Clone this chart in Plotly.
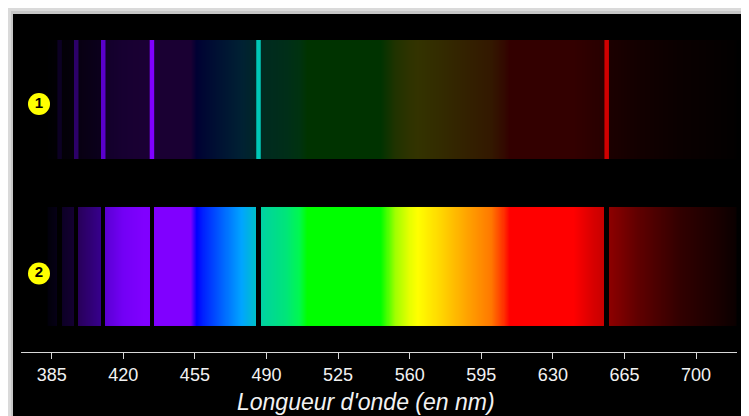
import numpy as np
import plotly.graph_objects as go

# ---- data ----
# colour stops of the continuous spectrum (wavelength in nm -> RGB)
stop_nm = [383, 387, 391, 396, 398, 409, 411, 420, 430, 453, 456, 460, 470, 478,
           485, 488, 500, 506, 510, 546, 553, 560, 564, 575, 589, 600, 606, 609,
           640, 650, 655, 658, 672, 692, 711, 720]
stop_r = [2, 5, 14, 20, 40, 55, 90, 115, 128, 128, 0, 0, 0, 0,
          0, 0, 0, 0, 0, 0, 160, 230, 255, 255, 255, 255, 255, 255,
          255, 215, 200, 140, 95, 50, 25, 10]
stop_g = [0, 0, 0, 0, 0, 0, 0, 0, 0, 0, 0, 40, 110, 165,
          190, 210, 230, 248, 255, 255, 255, 255, 255, 215, 160, 120, 50, 0,
          0, 0, 0, 0, 0, 0, 0, 0]
stop_b = [10, 20, 40, 50, 90, 140, 210, 245, 255, 255, 255, 255, 255, 255,
          200, 160, 120, 80, 0, 0, 0, 0, 0, 0, 0, 0, 0, 0,
          0, 0, 0, 0, 0, 0, 0, 0]
# hydrogen lines (nm) and their emission colours
lines_nm = [388.9, 397.0, 410.2, 434.0, 486.1, 656.3]
line_colors = ["#0c0024", "#2c0068", "#5a00cc", "#8000ff", "#00c8b8", "#d00000"]
band_labels = ["1", "2"]
tick_vals = [385, 420, 455, 490, 525, 560, 595, 630, 665, 700]
emission_dim = 0.2
x_title = "Longueur d'onde (en nm)"

# ---- build ----
wmin, wmax = stop_nm[0], stop_nm[-1]
step = 0.25
edges = np.arange(wmin, wmax + step / 2, step)
centers = (edges[:-1] + edges[1:]) / 2


def colorscale(factor):
    cs = []
    for w, r, g, b in zip(stop_nm, stop_r, stop_g, stop_b):
        cs.append([(w - wmin) / (wmax - wmin),
                   f"rgb({round(r*factor)},{round(g*factor)},{round(b*factor)})"])
    return cs


line_half = 1.1
z_abs = centers.astype(float).copy()
for Lw in lines_nm:
    z_abs[np.abs(centers - Lw) < line_half] = np.nan

# vertical layout (y units)
b2 = (0.0, 1.0)
b1 = (1.403, 2.403)
y_range = [-0.2185, 2.403]

fig = go.Figure()
# band 2: continuous spectrum with absorption lines
fig.add_trace(go.Heatmap(x=edges, y=list(b2), z=[z_abs], zmin=wmin, zmax=wmax,
                         colorscale=colorscale(1.0), showscale=False,
                         hoverinfo="skip"))
# band 1: dim background
fig.add_trace(go.Heatmap(x=edges, y=list(b1), z=[centers], zmin=wmin, zmax=wmax,
                         colorscale=colorscale(emission_dim), showscale=False,
                         hoverinfo="skip"))
# band 1: emission lines
fig.add_trace(go.Bar(x=lines_nm, y=[b1[1] - b1[0]] * len(lines_nm), base=b1[0],
                     width=2 * line_half,
                     marker=dict(color=line_colors, line=dict(width=0)),
                     hoverinfo="skip"))
# circled labels
fig.add_trace(go.Scatter(x=[378.8, 378.8], y=[1.866, 0.441],
                         mode="markers+text",
                         text=[f"<b>{t}</b>" for t in band_labels],
                         textposition="middle center",
                         textfont=dict(color="black", size=15,
                                       family="Liberation Sans, Arial"),
                         marker=dict(size=22, color="#ffff00",
                                     line=dict(width=0)),
                         hoverinfo="skip"))

OFF = 8  # page body margin
W, H = 749 - OFF, 416 - OFF
L, R, T, B = 21 - OFF, 12, 40 - OFF, 64
pw, ph = W - L - R, H - T - B


def px_x(p):  # page pixel -> paper
    return (p - OFF - L) / pw


def px_y(p):
    return (OFF + H - B - p) / ph


shapes = [
    dict(type="rect", xref="paper", yref="paper", layer="below",
         x0=px_x(11), x1=px_x(747), y0=px_y(420), y1=px_y(11),
         fillcolor="#c6c6c6", line=dict(width=0)),
    dict(type="rect", xref="paper", yref="paper", layer="below",
         x0=px_x(13), x1=px_x(745), y0=px_y(420), y1=px_y(14),
         fillcolor="black", line=dict(width=0)),
]

fig.update_layout(
    width=W, height=H,
    margin=dict(l=L, r=R, t=T, b=B),
    paper_bgcolor="#dadada",
    plot_bgcolor="black",
    showlegend=False,
    shapes=shapes,
    xaxis=dict(range=[370, 720], tickvals=tick_vals, ticks="outside",
               ticklen=6, tickcolor="#d8d8d8", showline=True,
               linecolor="#d8d8d8", linewidth=1, showgrid=False,
               zeroline=False, fixedrange=True,
               tickfont=dict(size=18, color="#f2f2f2",
                             family="Liberation Sans, Arial")),
    yaxis=dict(range=y_range, visible=False, fixedrange=True),
    annotations=[dict(text=f"<i>{x_title}</i>", xref="paper", yref="paper",
                      x=px_x(366), y=px_y(402), xanchor="center",
                      yanchor="middle", showarrow=False,
                      font=dict(size=23, color="#f2f2f2",
                                family="Liberation Sans, Arial"))],
)

fig.write_html("out.html")
